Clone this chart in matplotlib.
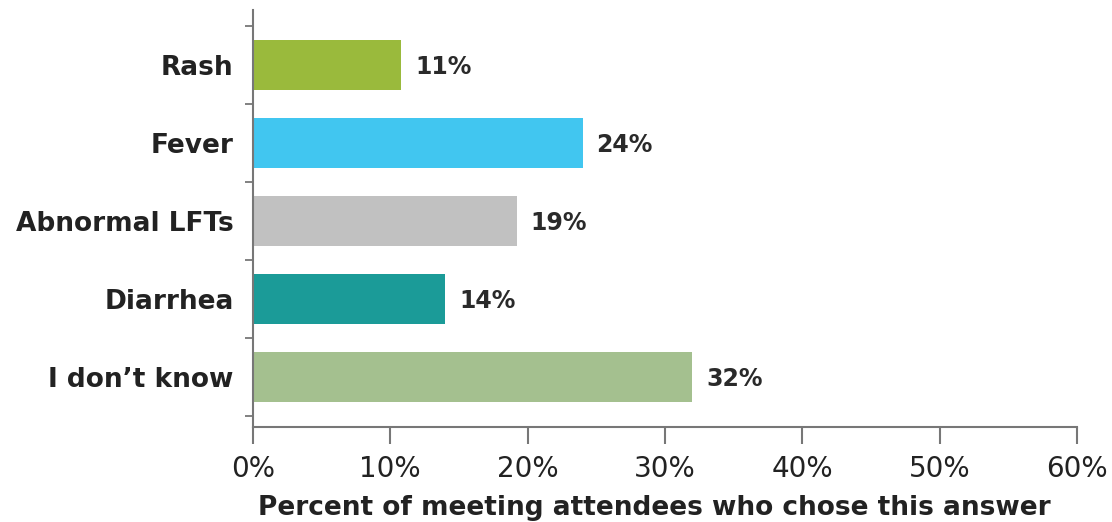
import matplotlib
matplotlib.use("Agg")
import matplotlib.pyplot as plt
import numpy as np

categories = ["Rash", "Fever", "Abnormal LFTs", "Diarrhea", "I don\u2019t know"]
values = [10.8, 24.0, 19.2, 14.0, 32.0]
value_labels = ["11%", "24%", "19%", "14%", "32%"]
colors = ["#9aba3c", "#41c6f0", "#c1c1c1", "#1b9b98", "#a4c08f"]
xticks = [0, 10, 20, 30, 40, 50, 60]
xtick_labels = ["0%", "10%", "20%", "30%", "40%", "50%", "60%"]
xlabel = "Percent of meeting attendees who chose this answer"

plt.rcParams['font.family'] = ['DejaVu Sans']

fig = plt.figure(figsize=(11.12, 5.22), dpi=100)
ax = fig.add_axes([0.2275, 0.182, 0.741, 0.799])

y = np.arange(len(categories))
ax.barh(y, values, height=0.64, color=colors, edgecolor='none')

for yi, v, lab in zip(y, values, value_labels):
    ax.text(v + 1.0, yi + 0.03, lab, va='center', ha='left', fontsize=17,
            fontweight='bold', color='#2a2a2a')

ax.set_xlim(0, 60)
ax.set_ylim(4.64, -0.7)

ax.set_yticks(y)
ax.set_yticklabels(categories, fontsize=19, fontweight='bold', color='#222222')
ax.tick_params(axis='y', which='major', length=0, pad=14)
ax.set_yticks(np.arange(-0.5, len(categories), 1.0), minor=True)
ax.tick_params(axis='y', which='minor', length=6, width=1.3, color='#777777', direction='out')

ax.set_xticks(xticks)
ax.set_xticklabels(xtick_labels, fontsize=20, color='#222222')
ax.tick_params(axis='x', length=12, width=1.5, color='#777777', direction='out', pad=8)

ax.set_xlabel(xlabel, fontsize=19, fontweight='bold', color='#222222')
ax.xaxis.set_label_coords(0.487, -0.163)
ax.xaxis.label.set_va('top')

for s in ['top', 'right']:
    ax.spines[s].set_visible(False)
for s in ['left', 'bottom']:
    ax.spines[s].set_color('#777777')
    ax.spines[s].set_linewidth(1.5)

fig.savefig("out.png", dpi=100)
